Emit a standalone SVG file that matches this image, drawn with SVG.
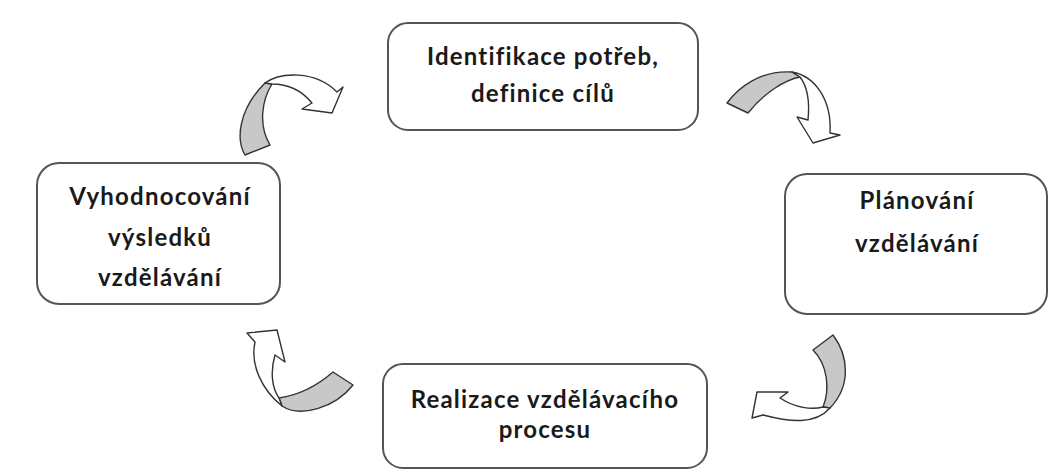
<svg xmlns="http://www.w3.org/2000/svg" width="1049" height="471" viewBox="0 0 1049 471">
  <style>
    .box { fill: #ffffff; stroke: #555555; stroke-width: 2; }
    .lbl { font-family: Lato, "Open Sans", "DejaVu Sans", sans-serif; font-weight: bold; font-size: 24px; letter-spacing: 1.2px; fill: #1a1a1a; text-anchor: middle; }
    .band { fill: #c8c8c8; stroke: #333333; stroke-width: 1.4; stroke-linejoin: round; }
    .head { fill: #ffffff; stroke: #333333; stroke-width: 1.4; stroke-linejoin: round; }
  </style>
  <rect width="1049" height="471" fill="#ffffff"/>

  <g id="node-identifikace">
    <rect class="box" x="388" y="23" width="310" height="107" rx="20"/>
    <text class="lbl" x="543" y="65">Identifikace potřeb,</text>
    <text class="lbl" x="543" y="102">definice cílů</text>
  </g>

  <g id="node-planovani">
    <rect class="box" x="785" y="174" width="262" height="140" rx="22"/>
    <text class="lbl" x="917" y="209">Plánování</text>
    <text class="lbl" x="917" y="252">vzdělávání</text>
  </g>

  <g id="node-realizace">
    <rect class="box" x="383" y="364" width="324" height="104" rx="20"/>
    <text class="lbl" x="545" y="408">Realizace vzdělávacího</text>
    <text class="lbl" x="545" y="438">procesu</text>
  </g>

  <g id="node-vyhodnocovani">
    <rect class="box" x="37" y="163" width="243" height="141" rx="22"/>
    <text class="lbl" x="160" y="205">Vyhodnocování</text>
    <text class="lbl" x="160" y="246">výsledků</text>
    <text class="lbl" x="160" y="286">vzdělávání</text>
  </g>

  <g id="connectors">
    <!-- evaluation -> needs -->
    <g id="arrow-top-left">
      <path class="band" d="M245,155 C236,140 238,110 265,83 L272,84 C262,100 258,125 270,145 Z"/>
      <path class="head" d="M265,83 C280,72 315,70 337,92 L343,87 L332,113 L302,109 L312,103 C303,92 290,84 272,84 Z"/>
    </g>
    <!-- needs -> planning -->
    <g id="arrow-top-right">
      <path class="band" d="M727,103 C738,88 760,70 792,72 L800,77 C785,80 765,92 748,113 Z"/>
      <path class="head" d="M792,72 C815,76 832,100 830,133 L840,135 L813,143 L797,117 L808,120 C810,100 807,86 800,77 Z"/>
    </g>
    <!-- planning -> realization -->
    <g id="arrow-bottom-right">
      <path class="band" d="M813,350 L833,335 C848,355 852,385 830,408 L823,407 C830,390 828,365 813,350 Z"/>
      <path class="head" d="M830,408 C815,425 790,422 763,415 L752,418 L757,392 L788,392 L780,398 C795,408 812,410 823,407 Z"/>
    </g>
    <!-- realization -> evaluation -->
    <g id="arrow-bottom-left">
      <path class="band" d="M333,372 L353,385 C335,408 300,418 282,406 L279,398 C300,395 318,385 333,372 Z"/>
      <path class="head" d="M282,406 C262,390 250,365 255,342 L247,333 L277,330 L285,362 L275,355 C270,372 272,388 279,398 Z"/>
    </g>
  </g>
</svg>
